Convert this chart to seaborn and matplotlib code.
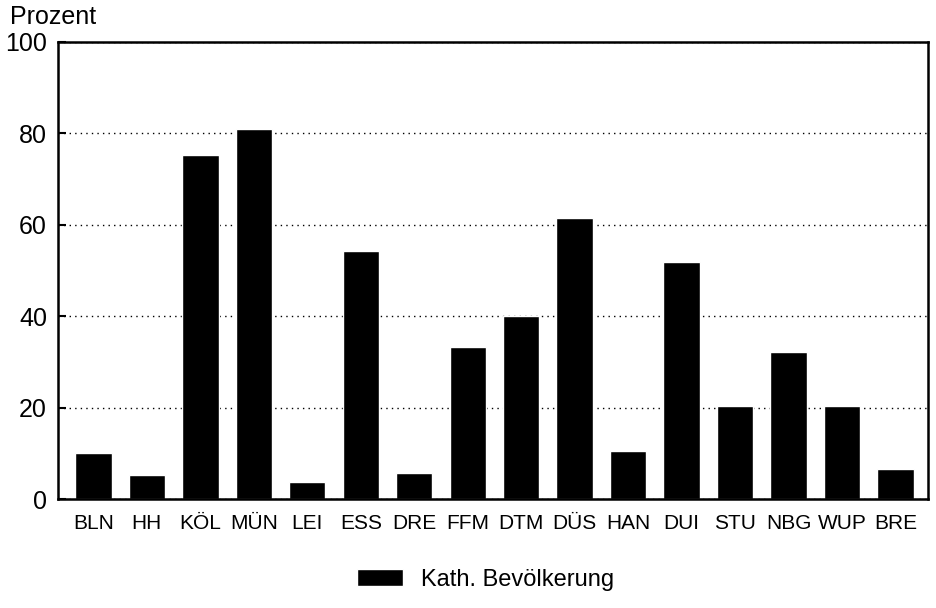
import pandas as pd
import matplotlib.pyplot as plt
import seaborn as sns

# Daten
staedte = ["BLN", "HH", "KÖL", "MÜN", "LEI", "ESS", "DRE", "FFM",
           "DTM", "DÜS", "HAN", "DUI", "STU", "NBG", "WUP", "BRE"]
kath_anteil = [10.1, 5.3, 75.2, 81.0, 3.7, 54.2, 5.7, 33.2,
               40.0, 61.4, 10.5, 51.9, 20.3, 32.2, 20.3, 6.6]
y_ticks = [0, 20, 40, 60, 80, 100]

df = pd.DataFrame({"Stadt": staedte, "Prozent": kath_anteil})

sns.set_style("white")
plt.rcParams["font.family"] = ["Liberation Sans", "DejaVu Sans"]
plt.rcParams["text.color"] = "black"
plt.rcParams["xtick.color"] = "black"
plt.rcParams["ytick.color"] = "black"

fig = plt.figure(figsize=(9.37, 6.08), dpi=100)
ax = fig.add_axes([0.062, 0.179, 0.928, 0.752])

sns.barplot(data=df, x="Stadt", y="Prozent", color="black", width=0.68,
            saturation=1, ax=ax, label="Kath. Bevölkerung")

ax.set_ylim(0, 100)
ax.set_xlim(-0.66, 15.6)
ax.set_yticks(y_ticks)
ax.set_xlabel("")
ax.set_ylabel("")
ax.set_axisbelow(True)
ax.yaxis.grid(True, linestyle=(0, (1, 3)), color="black", linewidth=1.0)

for s in ax.spines.values():
    s.set_visible(True)
    s.set_color("black")
    s.set_linewidth(1.8)

ax.tick_params(axis="y", direction="in", length=6, width=1.5, labelsize=18, pad=8, left=True)
ax.tick_params(axis="x", length=0, labelsize=15, pad=11)

fig.text(0.011, 0.953, "Prozent", fontsize=18, ha="left", va="bottom")

if ax.get_legend():
    ax.get_legend().remove()
handles, labels = ax.get_legend_handles_labels()
fig.legend(handles, labels, loc="center", bbox_to_anchor=(0.518, 0.046), frameon=False,
           fontsize=17, handlelength=1.95, handleheight=0.75, handletextpad=0.75)

plt.savefig("out.png", dpi=100)
plt.close()
